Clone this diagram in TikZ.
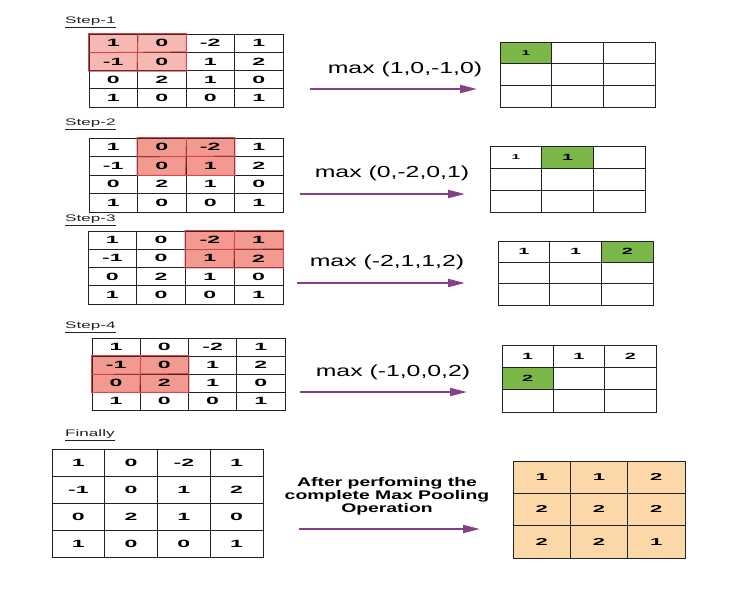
\documentclass[tikz,border=0pt]{standalone}
\usepackage{fontspec}
\setmainfont{Liberation Sans}
\newfontfamily\numfont[FakeStretch=2.2]{Liberation Sans}
\newfontfamily\wordfont[FakeStretch=1.55]{Liberation Sans}
\newfontfamily\labelfont[FakeStretch=1.8]{Liberation Sans}
\usetikzlibrary{positioning, arrows.meta, backgrounds}
\definecolor{poolPink}{HTML}{F6B8B3}
\definecolor{poolSalmon}{HTML}{F39A90}
\definecolor{poolRed}{HTML}{D7454F}
\definecolor{poolGreen}{HTML}{7AB648}
\definecolor{poolSand}{HTML}{FCD8A8}
\definecolor{poolPurple}{HTML}{834187}
\definecolor{poolInk}{HTML}{222222}

\tikzset{
  cell/.style={draw=poolInk, line width=0.9pt, inner sep=0pt,
    font=\numfont\bfseries\fontsize{10.5}{11}\selectfont},
  outcell/.style={draw=poolInk, line width=0.8pt, inner sep=0pt},
  outnum/.style={font=\numfont\bfseries\fontsize{9}{10}\selectfont},
  smallnum/.style={font=\numfont\bfseries\fontsize{7}{8}\selectfont},
  bignum/.style={font=\numfont\bfseries\fontsize{10}{11}\selectfont},
  steplabel/.style={anchor=west, inner sep=0pt,
    font=\labelfont\fontsize{9.5}{10}\selectfont, text=poolInk},
  maxtext/.style={inner sep=0pt, font=\wordfont\fontsize{16}{18}\selectfont},
  donetext/.style={inner sep=0pt, align=center,
    font=\wordfont\bfseries\fontsize{12.5}{13}\selectfont},
  flow/.style={poolPurple, line width=2pt, -{Triangle[length=17pt,width=8pt]}}
}

% 4x4 input map: #1 name, (#2,#3) top left corner, #4 x #5 cell size
\newcommand{\inmap}[5]{%
  \foreach \rowvals [count=\ri from 0] in {{1,0,-2,1},{-1,0,1,2},{0,2,1,0},{1,0,0,1}}{%
    \foreach \val [count=\ci from 0] in \rowvals{%
      \node[cell, minimum width=#4pt, minimum height=#5pt] (#1-\ri-\ci)
        at ({#2+(\ci+0.5)*#4},{#3+(\ri+0.5)*#5}) {\val};
    }%
  }%
}
% empty 3x3 output map
\newcommand{\outmap}[5]{%
  \foreach \ri in {0,1,2}{%
    \foreach \ci in {0,1,2}{%
      \node[outcell, minimum width=#4pt, minimum height=#5pt] (#1-\ri-\ci)
        at ({#2+(\ci+0.5)*#4},{#3+(\ri+0.5)*#5}) {};
    }%
  }%
}
% 2x2 pooling window from top left cell #1 to bottom right cell #2
\newcommand{\window}[3]{%
  \begin{scope}[on background layer]
    \fill[#3] (#1.north west) rectangle (#2.south east);
  \end{scope}
  \draw[poolRed, line width=1pt] (#1.north west) rectangle (#2.south east)
    (#1.south west) -- (#2.north east) (#1.north east) -- (#2.south west);
}
% green result cell
\newcommand{\hit}[1]{%
  \begin{scope}[on background layer]
    \fill[poolGreen] (#1.north west) rectangle (#1.south east);
  \end{scope}
}

\begin{document}
\begin{tikzpicture}[x=1pt, y=-1pt]
  \useasboundingbox (0,0) rectangle (738,590);

  % Step 1
  \node[steplabel] (l1) at (65,22) {\underline{Step-1}};
  \inmap{s1}{89}{34}{48.5}{18.3}
  \window{s1-0-0}{s1-1-1}{poolPink}
  \node[maxtext] (m1) at (405,69) {max (1,0,-1,0)};
  \coordinate (a1) at (310,89);
  \coordinate (b1) at (477,89);
  \draw[flow] (a1) -- (b1);
  \outmap{o1}{500}{42}{51.7}{21.7}
  \hit{o1-0-0}
  \node[smallnum] (o1v00) at (o1-0-0) {1};

  % Step 2
  \node[steplabel] (l2) at (65,124) {\underline{Step-2}};
  \inmap{s2}{89}{138}{48.5}{18.5}
  \window{s2-0-1}{s2-1-2}{poolSalmon}
  \node[maxtext] (m2) at (392,173) {max (0,-2,0,1)};
  \coordinate (a2) at (300,194);
  \coordinate (b2) at (465,194);
  \draw[flow] (a2) -- (b2);
  \outmap{o2}{490}{146}{51.7}{22}
  \hit{o2-0-1}
  \node[smallnum] (o2v00) at (o2-0-0) {1};
  \node[outnum] (o2v01) at (o2-0-1) {1};

  % Step 3
  \node[steplabel] (l3) at (65,220) {\underline{Step-3}};
  \inmap{s3}{88}{231}{48.75}{18.25}
  \window{s3-0-2}{s3-1-3}{poolSalmon}
  \node[maxtext] (m3) at (387,262) {max (-2,1,1,2)};
  \coordinate (a3) at (297,283);
  \coordinate (b3) at (465,283);
  \draw[flow] (a3) -- (b3);
  \outmap{o3}{498}{241}{51.7}{21.3}
  \hit{o3-0-2}
  \node[outnum] (o3v00) at (o3-0-0) {1};
  \node[outnum] (o3v01) at (o3-0-1) {1};
  \node[outnum] (o3v02) at (o3-0-2) {2};

  % Step 4
  \node[steplabel] (l4) at (65,327) {\underline{Step-4}};
  \inmap{s4}{92}{338}{48.25}{18}
  \window{s4-1-0}{s4-2-1}{poolSalmon}
  \node[maxtext] (m4) at (393,372) {max (-1,0,0,2)};
  \coordinate (a4) at (300,392);
  \coordinate (b4) at (467,392);
  \draw[flow] (a4) -- (b4);
  \outmap{o4}{502}{345}{51.3}{22.3}
  \hit{o4-1-0}
  \node[outnum] (o4v00) at (o4-0-0) {1};
  \node[outnum] (o4v01) at (o4-0-1) {1};
  \node[outnum] (o4v02) at (o4-0-2) {2};
  \node[outnum] (o4v10) at (o4-1-0) {2};

  % Finally
  \node[steplabel] (l5) at (65,435) {\underline{Finally}};
  \inmap{fin}{52}{449}{52.75}{27}
  \node[donetext] (done) at (387,496)
    {After perfoming the\\complete Max Pooling\\Operation};
  \coordinate (a5) at (299,529);
  \coordinate (b5) at (480,529);
  \draw[flow] (a5) -- (b5);
  \outmap{res}{513}{461}{57.3}{32.3}
  \begin{scope}[on background layer]
    \fill[poolSand] (res-0-0.north west) rectangle (res-2-2.south east);
  \end{scope}
  \foreach \rowvals [count=\ri from 0] in {{1,1,2},{2,2,2},{2,2,1}}{
    \foreach \val [count=\ci from 0] in \rowvals{
      \node[bignum] (resv\ri\ci) at (res-\ri-\ci) {\val};
    }
  }
\end{tikzpicture}
\end{document}
